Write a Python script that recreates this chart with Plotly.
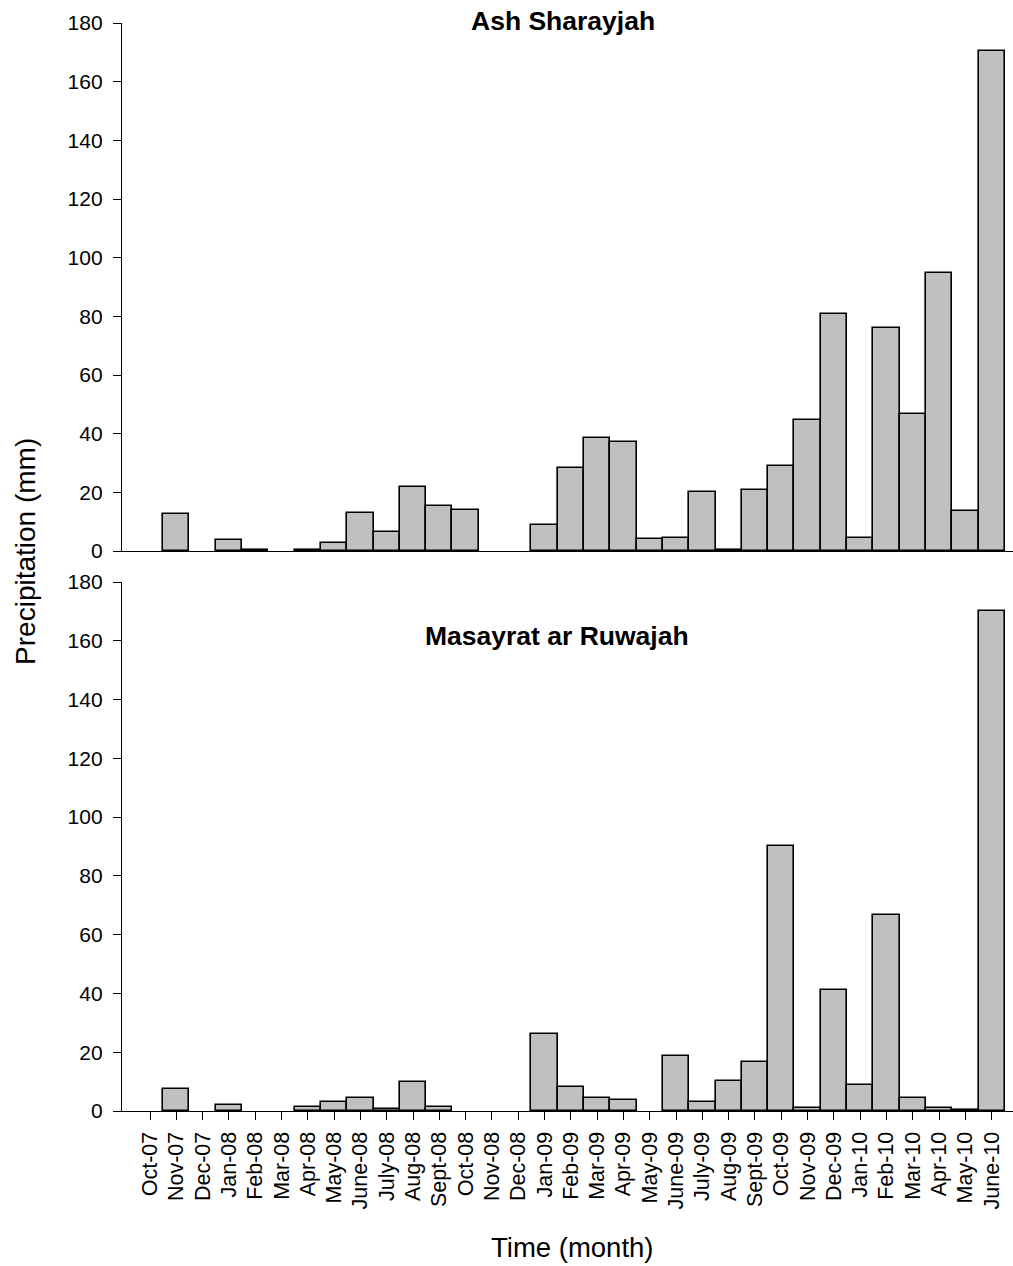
import plotly.graph_objects as go
from plotly.subplots import make_subplots

months = ["Oct-07", "Nov-07", "Dec-07", "Jan-08", "Feb-08", "Mar-08", "Apr-08",
          "May-08", "June-08", "July-08", "Aug-08", "Sept-08", "Oct-08", "Nov-08",
          "Dec-08", "Jan-09", "Feb-09", "Mar-09", "Apr-09", "May-09", "June-09",
          "July-09", "Aug-09", "Sept-09", "Oct-09", "Nov-09", "Dec-09", "Jan-10",
          "Feb-10", "Mar-10", "Apr-10", "May-10", "June-10"]

# Monthly precipitation (mm)
ash_sharayjah = [0, 12.5, 0, 3.9, 0.5, 0, 0.5, 2.7, 12.8, 6.4, 21.7, 15.2, 14.1, 0,
                 0, 8.8, 28.4, 38.4, 37.1, 4.1, 4.3, 20.1, 0.5, 20.8, 29.0, 44.7,
                 80.8, 4.5, 76.0, 46.8, 94.7, 13.6, 170.3]
masayrat_ar_ruwajah = [0, 7.5, 0, 2.0, 0, 0, 1.5, 3.1, 4.4, 0.7, 9.9, 1.4, 0, 0,
                       0, 26.2, 8.3, 4.3, 3.7, 0, 18.7, 2.9, 10.3, 16.6, 90.2, 0.9,
                       41.2, 8.7, 66.8, 4.3, 1.1, 0.5, 170.3]

y_ticks = [0, 20, 40, 60, 80, 100, 120, 140, 160, 180]

FONT = "Liberation Sans, Arial, sans-serif"
BAR_FILL = "#c0c0c0"

fig = make_subplots(rows=2, cols=1, shared_xaxes=False, vertical_spacing=0.0)

for row, values in ((1, ash_sharayjah), (2, masayrat_ar_ruwajah)):
    # months with no rain are left without a bar outline
    line_widths = [1.6 if v > 0 else 0 for v in values]
    fig.add_trace(
        go.Bar(x=months, y=values,
               marker=dict(color=BAR_FILL,
                           line=dict(color="#000000", width=line_widths)),
               showlegend=False),
        row=row, col=1)

x_range = [-1.065, 32.81]
common_y = dict(range=[0, 180], tickvals=y_ticks, ticks="outside", ticklen=8,
                tickwidth=1.3, tickcolor="#000", showline=True, linecolor="#000",
                linewidth=1.3, showgrid=False, zeroline=False, ticklabelstandoff=6,
                tickfont=dict(family=FONT, size=21, color="#000"))

fig.update_layout(
    width=1013, height=1266,
    margin=dict(l=122, r=0, t=23, b=155),
    plot_bgcolor="white", paper_bgcolor="white",
    bargap=0,
    font=dict(family=FONT, color="#000"),
    xaxis=dict(domain=[0, 1], range=x_range, showline=True, linecolor="#000",
               linewidth=1.3, ticks="", showticklabels=False, showgrid=False,
               zeroline=False, anchor="y"),
    xaxis2=dict(domain=[0, 1], range=x_range, showline=True, linecolor="#000",
                linewidth=1.3, ticks="outside", ticklen=8, tickwidth=1.3,
                tickcolor="#000", tickangle=-90, showgrid=False, zeroline=False,
                ticklabelstandoff=3,
                tickfont=dict(family=FONT, size=21.5, color="#000"), anchor="y2"),
    yaxis=dict(domain=[0.5147, 1.0], anchor="x", **common_y),
    yaxis2=dict(domain=[0.0, 0.4862], anchor="x2", **common_y),
)

fig.add_annotation(text="<b>Ash Sharayjah</b>", x=0.495, y=1.0018, xref="paper",
                   yref="paper", showarrow=False, xanchor="center", yanchor="middle",
                   font=dict(family=FONT, size=26.5, color="#000"))
fig.add_annotation(text="<b>Masayrat ar Ruwajah</b>", x=0.488, y=0.4366, xref="paper",
                   yref="paper", showarrow=False, xanchor="center", yanchor="middle",
                   font=dict(family=FONT, size=26.5, color="#000"))
fig.add_annotation(text="Precipitation (mm)", x=-0.109, y=0.5147, xref="paper",
                   yref="paper", showarrow=False, xanchor="center", yanchor="middle",
                   textangle=-90, font=dict(family=FONT, size=28, color="#000"))
fig.add_annotation(text="Time (month)", x=0.505, y=-0.125, xref="paper",
                   yref="paper", showarrow=False, xanchor="center", yanchor="middle",
                   font=dict(family=FONT, size=27.5, color="#000"))

fig.write_html("out.html")
